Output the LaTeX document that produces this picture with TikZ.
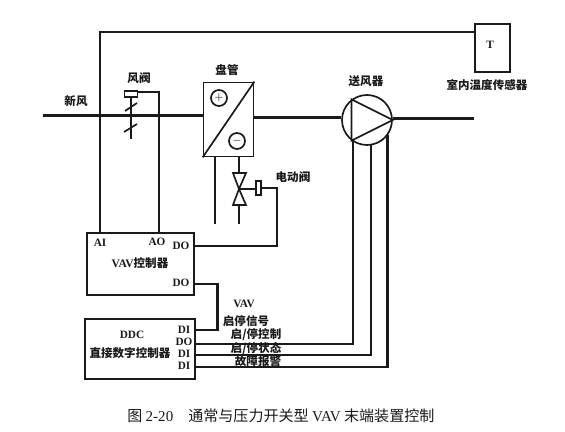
\documentclass[tikz,border=0pt]{standalone}
\usepackage{fontspec}
\setmainfont{Liberation Serif}
\newfontfamily\cjk{Noto Sans CJK SC}
\usetikzlibrary{calc}
\definecolor{Ink}{HTML}{1A1A1A}
\tikzset{
  device/.style={draw=Ink, line width=1.2pt, fill=white, inner sep=0pt},
  lbl/.style={text=Ink, inner sep=0pt, font=\fontsize{8.2}{9}\selectfont\cjk\bfseries},
  port/.style={text=Ink, inner sep=0pt, font=\fontsize{8}{9}\selectfont\bfseries},
  wire/.style={draw=Ink, line width=1.8pt},
  thinwire/.style={draw=Ink, line width=1.2pt}
}
\begin{document}
\begin{tikzpicture}[x=0.025cm,y=-0.025cm]
    \useasboundingbox (0,0) rectangle (565,432);
    % air path
    \coordinate (inlet) at (43,115.5);
    \coordinate (airmid) at (300,117.5);
    \coordinate (outlet) at (474,118.5);
    \node[device,minimum width=1.25cm,minimum height=1.85cm] (coil) at (228.5,119.5) {};
    \node[device,circle,minimum size=1.25cm] (fan) at (367,120) {};
    \draw[wire] (inlet) -- (coil.west |- inlet);
    \draw[wire] (coil.east |- airmid) -- (fan.west |- airmid);
    \draw[wire] (fan.east |- outlet) -- (outlet);
    \draw[thinwire] (coil.south west) -- (coil.north east);
    \draw[thinwire] (fan.east) -- (fan.127) -- (fan.233) -- cycle;
    \node[device,circle,minimum size=0.4cm,font=\fontsize{8}{9}\selectfont] (heat) at (219,98) {$+$};
    \node[device,circle,minimum size=0.4cm,font=\fontsize{8}{9}\selectfont] (cool) at (237,141) {$-$};
    % damper
    \node[device,minimum width=0.32cm,minimum height=0.16cm] (damper) at (131,94) {};
    \coordinate (stemend) at (131,139);
    \draw[thinwire] (damper.south) -- (stemend);
    \coordinate (bladeAa) at (125,111);
    \coordinate (bladeAb) at (137,103);
    \coordinate (bladeBa) at (124,132);
    \coordinate (bladeBb) at (137,124);
    \draw[thinwire] (bladeAa) -- (bladeAb);
    \draw[thinwire] (bladeBa) -- (bladeBb);
    % valve
    \coordinate (valve) at (239,189);
    \coordinate (pipeL) at (215,224);
    \coordinate (pipeR) at (239,224);
    \node[device,minimum width=0.14cm,minimum height=0.35cm] (motor) at (258.5,188) {};
    \draw[thinwire] (233,173) -- (246,173) -- (valve) -- (233,205) -- (246,205) -- (valve) -- cycle;
    \draw[wire] (coil.south -| pipeL) -- (pipeL);
    \draw[wire] (coil.south -| pipeR) -- ($(valve)+(0,-16)$);
    \draw[wire] ($(valve)+(0,16)$) -- (pipeR);
    \draw[thinwire] (valve) -- (motor.west |- valve);
    % sensor and controllers
    \node[device,minimum width=0.875cm,minimum height=1.2cm] (sensor) at (492.5,48) {};
    \node[device,minimum width=2.68cm,minimum height=1.55cm] (vav) at (140.5,264) {};
    \node[device,minimum width=2.75cm,minimum height=1.5cm] (ddc) at (140,349) {};
    \node[port] (tlabel) at (490,45) {T};
    \node[port] (vavai) at (100,243) {AI};
    \node[port] (vavao) at (157,242) {AO};
    \node[port] (vavdoa) at (181,246) {DO};
    \node[port] (vavdob) at (181,283) {DO};
    \node[port] (ddcdia) at (184,330) {DI};
    \node[port] (ddcdo) at (184,342) {DO};
    \node[port] (ddcdib) at (184,354) {DI};
    \node[port] (ddcdic) at (184,366) {DI};
    \node[lbl] (vavname) at (140,263) {{\normalfont\bfseries VAV}控制器};
    \node[port] (ddcname) at (132,335) {DDC};
    \node[lbl] (ddcfull) at (130,353) {直接数字控制器};
    % wiring
    \coordinate (topleft) at (100,32);
    \coordinate (acttop) at (159,92);
    \coordinate (motorrun) at (277,188);
    \coordinate (vavrun) at (217.5,284);
    \coordinate (fanrunA) at (353,344);
    \coordinate (fanrunB) at (371,355);
    \coordinate (fanrunC) at (387.5,367);
    \draw[wire] (vav.north -| vavai) -- (topleft) -- (topleft -| sensor.west);
    \draw[wire] (vav.north -| acttop) -- (acttop) -- (damper.east |- acttop);
    \draw[wire] (motor.east) -- (motorrun) -- (motorrun |- vavdoa) -- (vav.east |- vavdoa);
    \draw[wire] (vav.east |- vavrun) -- (vavrun) -- (vavrun |- ddcdia) -- (ddc.east |- ddcdia);
    \draw[wire] (ddc.east |- fanrunA) -- (fanrunA) -- (353,141);
    \draw[wire] (ddc.east |- fanrunB) -- (fanrunB) -- (371,145);
    \draw[wire] (ddc.east |- fanrunC) -- (fanrunC) -- (387.5,135);
    % labels
    \node[lbl] (fresh) at (76,101) {新风};
    \node[lbl] (dampername) at (139,78) {风阀};
    \node[lbl] (coilname) at (227,70) {盘管};
    \node[lbl] (fanname) at (366,81) {送风器};
    \node[lbl] (valvename) at (293,177) {电动阀};
    \node[lbl] (sensorname) at (487,85) {室内温度传感器};
    \node[port] (sigvav) at (244,304) {VAV};
    \node[lbl] (signame) at (246,321) {启停信号};
    \node[lbl] (cmdname) at (256,335) {启/停控制};
    \node[lbl] (statename) at (256,349) {启/停状态};
    \node[lbl] (faultname) at (258,361.5) {故障报警};
    \node[lbl,anchor=west,font=\fontsize{10.7}{12}\selectfont\cjk] (caption) at (127,416) {图 {\normalfont 2-20}\hspace{1em}通常与压力开关型 {\normalfont VAV} 末端装置控制};
  \end{tikzpicture}
\end{document}
